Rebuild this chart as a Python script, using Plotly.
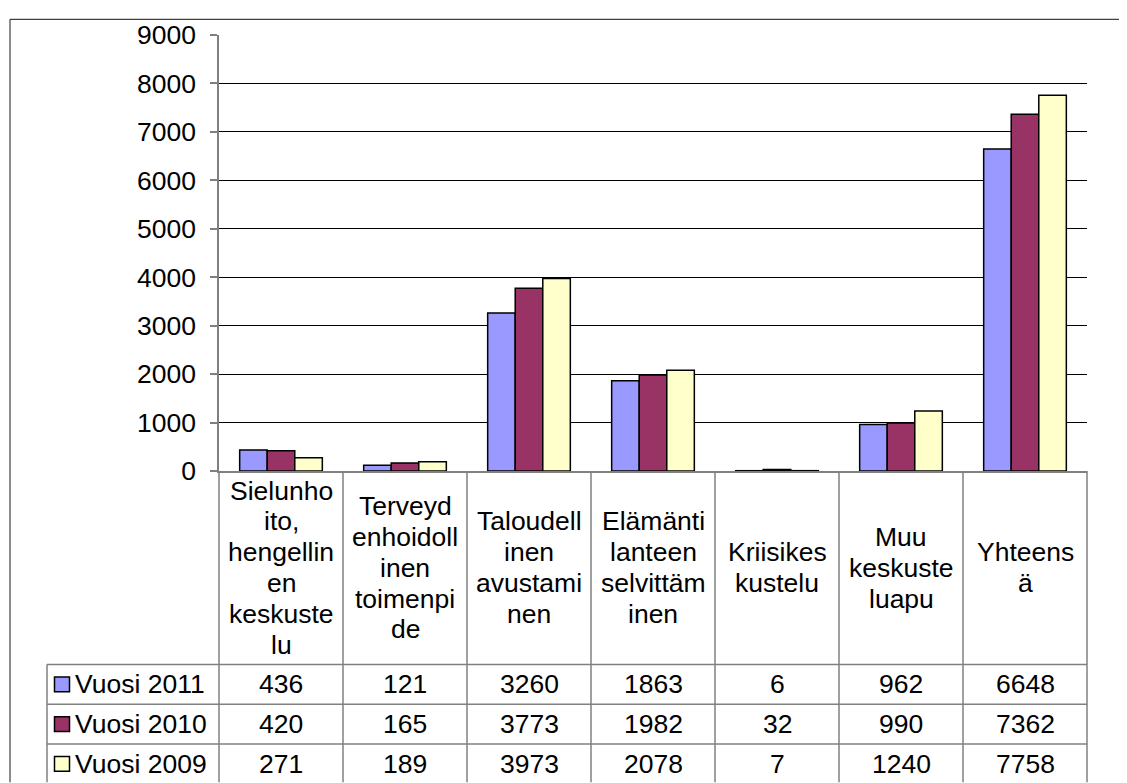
import plotly.graph_objects as go

# ---------------- data ----------------
categories = [
    "Sielunhoito, hengellinen keskustelu",
    "Terveydenhoidollinen toimenpide",
    "Taloudellinen avustaminen",
    "Elämäntilanteen selvittäminen",
    "Kriisikeskustelu",
    "Muu keskusteluapu",
    "Yhteensä",
]
header_labels = [
    ["Sielunho", "ito,", "hengellin", "en", "keskuste", "lu"],
    ["Terveyd", "enhoidoll", "inen", "toimenpi", "de"],
    ["Taloudell", "inen", "avustami", "nen"],
    ["Elämänti", "lanteen", "selvittäm", "inen"],
    ["Kriisikes", "kustelu"],
    ["Muu", "keskuste", "luapu"],
    ["Yhteens", "ä"],
]
series_names = ["Vuosi 2011", "Vuosi 2010", "Vuosi 2009"]
vuosi_2011 = [436, 121, 3260, 1863, 6, 962, 6648]
vuosi_2010 = [420, 165, 3773, 1982, 32, 990, 7362]
vuosi_2009 = [271, 189, 3973, 2078, 7, 1240, 7758]
series_values = [vuosi_2011, vuosi_2010, vuosi_2009]
series_colors = ["#9999FF", "#993366", "#FFFFCC"]
y_ticks = [0, 1000, 2000, 3000, 4000, 5000, 6000, 7000, 8000, 9000]

# ---------------- geometry (page pixels) ----------------
PAGE_W, PAGE_H = 1127, 783
OFF = 8                                   # default body margin of the page
W, H = PAGE_W - OFF, PAGE_H - OFF         # figure size

def fx(px):  # page px -> figure px
    return px - OFF

L, R, T, B = fx(219), fx(1087), fx(27), fx(471)   # plot area (figure px)
HEADER_BOTTOM = fx(668)
ROW_H = 40.5
LINE_H = 31.4
LEGEND_LEFT = fx(47)
FONT = "Liberation Sans, Arial, sans-serif"
FS = 26.5
GRID_GRAY = "#808080"

def xp(px):
    return (px - L) / (R - L)

def yp(py):
    return (B - py) / (B - T)

n = len(categories)
colw = (R - L) / n

fig = go.Figure()
for name, vals, col in zip(series_names, series_values, series_colors):
    fig.add_trace(go.Bar(
        x=list(range(n)), y=vals, name=name,
        marker=dict(color=col, line=dict(color="black", width=1.5)),
        showlegend=False,
    ))

shapes = []
annotations = []

# outer chart border (top + left visible)
shapes.append(dict(type="line", xref="paper", yref="paper",
                   x0=xp(fx(10)), x1=xp(W + 5), y0=yp(fx(11)), y1=yp(fx(11)),
                   line=dict(color="#404040", width=1.2)))
shapes.append(dict(type="line", xref="paper", yref="paper",
                   x0=xp(fx(10)), x1=xp(fx(10)), y0=yp(fx(11)), y1=yp(H + 5),
                   line=dict(color="#404040", width=1.2)))

# vertical table lines at category boundaries
for k in range(n + 1):
    xx = L + k * colw
    shapes.append(dict(type="line", xref="paper", yref="paper",
                       x0=xp(xx), x1=xp(xx), y0=yp(B), y1=yp(H + 5),
                       line=dict(color=GRID_GRAY, width=1.5)))
# legend column left line
shapes.append(dict(type="line", xref="paper", yref="paper",
                   x0=xp(LEGEND_LEFT), x1=xp(LEGEND_LEFT),
                   y0=yp(HEADER_BOTTOM), y1=yp(H + 5),
                   line=dict(color=GRID_GRAY, width=1.5)))
# horizontal row lines
for r in range(len(series_names) + 1):
    yy = HEADER_BOTTOM + r * ROW_H
    shapes.append(dict(type="line", xref="paper", yref="paper",
                       x0=xp(LEGEND_LEFT), x1=xp(R), y0=yp(yy), y1=yp(yy),
                       line=dict(color=GRID_GRAY, width=1.5)))

# header labels (one annotation per wrapped line)
hc = (B + HEADER_BOTTOM) / 2
for k, lines in enumerate(header_labels):
    m = len(lines)
    for i, line in enumerate(lines):
        ly = hc + (i - (m - 1) / 2) * LINE_H
        annotations.append(dict(
            xref="paper", yref="paper",
            x=xp(L + (k + 0.5) * colw), y=yp(ly),
            text=line, showarrow=False, xanchor="center", yanchor="middle",
            align="center", font=dict(family=FONT, size=FS, color="black")))

# rows
for r, (name, vals, col) in enumerate(zip(series_names, series_values, series_colors)):
    cy = HEADER_BOTTOM + (r + 0.5) * ROW_H
    sx = LEGEND_LEFT + 7.5
    shapes.append(dict(type="rect", xref="paper", yref="paper",
                       x0=xp(sx), x1=xp(sx + 15), y0=yp(cy - 7.5), y1=yp(cy + 7.5),
                       fillcolor=col, line=dict(color="black", width=1.5)))
    annotations.append(dict(
        xref="paper", yref="paper", x=xp(sx + 18.5), y=yp(cy),
        text=name, showarrow=False, xanchor="left", yanchor="middle",
        font=dict(family=FONT, size=FS, color="black")))
    for k, v in enumerate(vals):
        annotations.append(dict(
            xref="paper", yref="paper",
            x=xp(L + (k + 0.5) * colw), y=yp(cy),
            text=str(v), showarrow=False, xanchor="center", yanchor="middle",
            font=dict(family=FONT, size=FS, color="black")))

fig.update_layout(
    width=W, height=H,
    margin=dict(l=L, r=W - R, t=T, b=H - B, pad=0),
    paper_bgcolor="white", plot_bgcolor="white",
    barmode="group", bargap=1 / 3, bargroupgap=0,
    shapes=shapes, annotations=annotations,
    font=dict(family=FONT, size=FS, color="black"),
)
fig.update_xaxes(
    range=[-0.5, n - 0.5], showticklabels=False, ticks="",
    showline=True, linecolor=GRID_GRAY, linewidth=1.5, showgrid=False,
    zeroline=False, fixedrange=True,
)
fig.update_yaxes(
    range=[0, 9000], tickvals=y_ticks, ticktext=[str(t) for t in y_ticks],
    showgrid=True, gridcolor="black", gridwidth=1,
    showline=True, linecolor=GRID_GRAY, linewidth=1.5,
    ticks="outside", ticklen=7, tickcolor=GRID_GRAY, tickwidth=1.5,
    ticklabelstandoff=9, zeroline=False,
    tickfont=dict(family=FONT, size=FS, color="black"),
)

fig.write_html("out.html")
